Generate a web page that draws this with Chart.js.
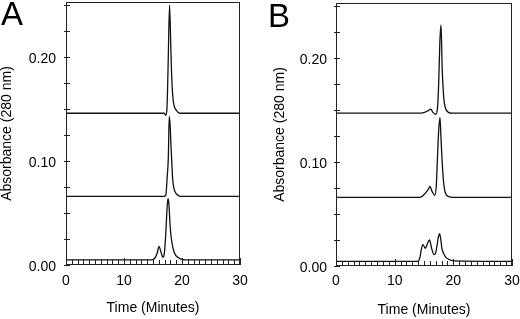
<!DOCTYPE html>
<html><head><meta charset="utf-8">
<script src="https://cdn.jsdelivr.net/npm/chart.js@4.4.1/dist/chart.umd.min.js"></script>
<style>
html,body{margin:0;padding:0;background:#fff;}
#wrap{position:relative;width:520px;height:319px;overflow:hidden;background:#fff;}
.pane{position:absolute;top:0;width:260px;height:319px;}
canvas{display:block;}
</style></head><body>
<div id="wrap">
<div class="pane" style="left:0"><canvas id="cA" width="260" height="319"></canvas></div>
<div class="pane" style="left:260px"><canvas id="cB" width="260" height="319"></canvas></div>
</div>
<script>
// ---- axis labels ----
const xLabelValues = [0, 10, 20, 30];
const xTickLabels = ['0', '10', '20', '30'];
const yLabelValues = [0, 0.1, 0.2];
const yTickLabels = ['0.00', '0.10', '0.20'];
const xTitle = 'Time (Minutes)';
const yTitle = 'Absorbance (280 nm)';

// ---- Panel A traces (time in minutes, absorbance) ----
const aTopT = [0, 16.9, 17.2, 17.4, 17.6, 17.85, 18.05, 18.2, 18.4, 18.6, 19.0, 19.6, 30];
const aTopV = [0.146, 0.146, 0.144, 0.150, 0.190, 0.250, 0.215, 0.185, 0.163, 0.154, 0.149, 0.146, 0.146];
const aMidT = [0, 16.9, 17.2, 17.45, 17.64, 17.8, 17.95, 18.1, 18.22, 18.4, 18.6, 18.8, 19.2, 19.7, 30];
const aMidV = [0.066, 0.066, 0.067, 0.085, 0.103, 0.143, 0.135, 0.115, 0.101, 0.082, 0.074, 0.0705, 0.0675, 0.066, 0.066];
const aLowT = [0, 14.8, 15.3, 15.7, 16.05, 16.35, 16.7, 16.95, 17.2, 17.4, 17.58, 17.75, 17.95, 18.15, 18.5, 18.9, 19.4, 20.0, 20.5, 30];
const aLowV = [0.005, 0.005, 0.0065, 0.011, 0.018, 0.013, 0.0075, 0.011, 0.030, 0.052, 0.064, 0.058, 0.038, 0.026, 0.015, 0.0095, 0.007, 0.0055, 0.005, 0.005];

// ---- Panel B traces ----
const bTopT = [0, 14.5, 15.2, 15.7, 16.15, 16.55, 17.0, 17.3, 17.5, 17.7, 17.9, 18.1, 18.25, 18.4, 18.8, 19.7, 30];
const bTopV = [0.147, 0.147, 0.148, 0.1495, 0.151, 0.1475, 0.146, 0.152, 0.175, 0.215, 0.232, 0.190, 0.172, 0.160, 0.150, 0.147, 0.147];
const bMidT = [0, 14.3, 14.9, 15.45, 15.75, 16.02, 16.35, 16.85, 17.1, 17.3, 17.5, 17.72, 17.88, 18.0, 18.15, 18.3, 18.58, 19.15, 20, 30];
const bMidV = [0.066, 0.066, 0.068, 0.0715, 0.074, 0.0765, 0.072, 0.068, 0.078, 0.105, 0.130, 0.143, 0.125, 0.111, 0.095, 0.083, 0.0715, 0.067, 0.066, 0.066];
const bLowT = [0, 13.9, 14.3, 14.55, 14.8, 15.25, 15.55, 15.95, 16.3, 16.7, 16.95, 17.2, 17.45, 17.65, 17.85, 18.05, 18.35, 18.7, 19.2, 20, 30];
const bLowV = [0.0045, 0.0045, 0.008, 0.016, 0.0205, 0.017, 0.021, 0.025, 0.017, 0.011, 0.012, 0.019, 0.028, 0.031, 0.026, 0.017, 0.012, 0.0085, 0.0065, 0.005, 0.0045];

const FONT = '"Liberation Sans", Arial, Helvetica, sans-serif';

function pts(ts, vs) { return ts.map((t, i) => ({x: t, y: vs[i]})); }

const framePlugin = {
  id: 'frame',
  afterDraw(chart, args, opts) {
    const ctx = chart.ctx;
    const ca = chart.chartArea;
    const xs = chart.scales.x, ys = chart.scales.y;
    ctx.save();
    ctx.strokeStyle = '#222';
    ctx.lineWidth = 1;
    ctx.strokeRect(Math.round(ca.left) + 0.5, Math.round(ca.top) + 0.5,
                   Math.round(ca.right - ca.left) - 1, Math.round(ca.bottom - ca.top) - 1);
    ctx.beginPath();
    xs.ticks.forEach(tk => {
      const px = Math.round(xs.getPixelForValue(tk.value)) + 0.5;
      const len = (tk.value % 10 === 0) ? 7 : 5;
      ctx.moveTo(px, ca.bottom);
      ctx.lineTo(px, ca.bottom - len);
    });
    ys.ticks.forEach(tk => {
      const py = Math.round(ys.getPixelForValue(tk.value)) + 0.5;
      ctx.moveTo(ca.left - 2, py);
      ctx.lineTo(ca.left + 4, py);
    });
    ctx.stroke();
    ctx.fillStyle = '#000';
    ctx.font = '33px ' + FONT;
    ctx.textBaseline = 'alphabetic';
    ctx.fillText(opts.letter, opts.lx, opts.ly);
    ctx.restore();
  }
};

function makeChart(id, traces, g) {
  const ds = traces.map(tr => ({
    data: pts(tr[0], tr[1]),
    borderColor: '#111',
    borderWidth: 1.3,
    pointRadius: 0,
    fill: false,
    cubicInterpolationMode: 'monotone',
    tension: 0.4
  }));
  return new Chart(document.getElementById(id), {
    type: 'line',
    data: {datasets: ds},
    plugins: [framePlugin],
    options: {
      responsive: false,
      animation: false,
      events: [],
      layout: {padding: {left: 0, right: g.padR, top: g.padT, bottom: 0}},
      plugins: {
        legend: {display: false},
        tooltip: {enabled: false},
        frame: {letter: g.letter, lx: g.lx, ly: g.ly}
      },
      scales: {
        x: {
          type: 'linear', min: 0, max: 30,
          afterFit(s) { s.height = g.xh; s.paddingLeft = 0; s.paddingRight = 0; },
          grid: {display: false, drawTicks: false},
          border: {display: false},
          ticks: {
            stepSize: 1, autoSkip: false, maxRotation: 0, minRotation: 0,
            padding: g.xtp, color: '#000', font: {family: FONT, size: 14},
            callback: (v) => { const i = xLabelValues.findIndex(l => Math.abs(l - v) < 1e-6); return i >= 0 ? xTickLabels[i] : ''; }
          },
          title: {display: true, text: xTitle, color: '#000', font: {family: FONT, size: 14}, padding: {top: 0, bottom: g.xttp}}
        },
        y: {
          type: 'linear', min: 0, max: 0.253,
          afterFit(s) { s.width = g.yw; s.paddingTop = 0; s.paddingBottom = 0; },
          grid: {display: false, drawTicks: false},
          border: {display: false},
          ticks: {
            stepSize: 0.025, includeBounds: false, autoSkip: false,
            padding: g.ytp, labelOffset: 2, color: '#000', font: {family: FONT, size: 14},
            callback: (v) => { const i = yLabelValues.findIndex(l => Math.abs(l - v) < 1e-6); return i >= 0 ? yTickLabels[i] : ''; }
          },
          title: {display: true, text: yTitle, color: '#000', font: {family: FONT, size: 14}, padding: {top: g.yttp, bottom: 0}}
        }
      }
    }
  });
}

makeChart('cA', [[aTopT, aTopV], [aMidT, aMidV], [aLowT, aLowV]],
  {padR: 20, padT: 2, xh: 54, yw: 66, xtp: 7.6, xttp: 2.6, ytp: 10, yttp: -1.4, letter: 'A', lx: 1, ly: 25});
makeChart('cB', [[bTopT, bTopV], [bMidT, bMidV], [bLowT, bLowV]],
  {padR: 8, padT: 3, xh: 53, yw: 76, xtp: 6.6, xttp: 0.6, ytp: 9, yttp: 11.6, letter: 'B', lx: 8, ly: 27});
</script>
</body></html>
